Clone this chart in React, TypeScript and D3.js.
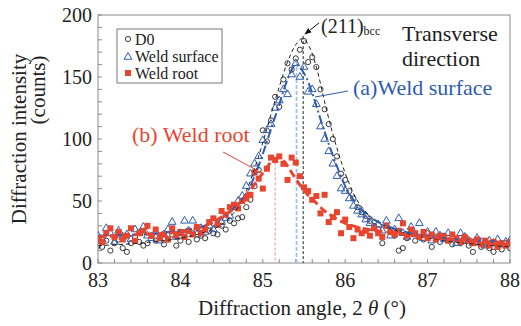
import React from "react";
import * as d3 from "d3";

// ---------------- DATA ----------------
const ANGLES = [
  83.0, 83.05, 83.1, 83.15, 83.2, 83.25, 83.3, 83.35, 83.4, 83.45,
  83.5, 83.55, 83.6, 83.65, 83.7, 83.75, 83.8, 83.85, 83.9, 83.95,
  84.0, 84.05, 84.1, 84.15, 84.2, 84.25, 84.3, 84.35, 84.4, 84.45,
  84.5, 84.55, 84.6, 84.65, 84.7, 84.75, 84.8, 84.85, 84.9, 84.95,
  85.0, 85.05, 85.1, 85.15, 85.2, 85.25, 85.3, 85.35, 85.4, 85.45,
  85.5, 85.55, 85.6, 85.65, 85.7, 85.75, 85.8, 85.85, 85.9, 85.95,
  86.0, 86.05, 86.1, 86.15, 86.2, 86.25, 86.3, 86.35, 86.4, 86.45,
  86.5, 86.55, 86.6, 86.65, 86.7, 86.75, 86.8, 86.85, 86.9, 86.95,
  87.0, 87.05, 87.1, 87.15, 87.2, 87.25, 87.3, 87.35, 87.4, 87.45,
  87.5, 87.55, 87.6, 87.65, 87.7, 87.75, 87.8, 87.85, 87.9, 87.95,
  88.0,
];

const D0 = [
  14, 13, 18, 10, 16, 19, 12, 9, 16, 21,
  17, 14, 16, 22, 18, 20, 15, 19, 23, 14,
  18, 21, 17, 24, 19, 22, 20, 26, 24, 23,
  30, 27, 34, 32, 36, 37, 45, 51, 62, 75,
  107, 98, 115, 134, 126, 148, 161, 156, 165, 172,
  179, 162, 166, 158, 140, 124, 112, 100, 86, 72,
  67, 58, 52, 45, 41, 38, 34, 30, 27, 16,
  30, 25, 22, 10, 12, 20, 24, 18, 21, 19,
  24, 13, 20, 17, 22, 18, 15, 19, 16, 21,
  14, 9, 17, 13, 15, 12, 9, 14, 11, 16,
  12,
];

const WELD_SURFACE = [
  22, 19, 28, 24, 17, 26, 21, 23, 19, 27,
  24, 29, 22, 20, 25, 18, 23, 27, 33, 21,
  24, 34, 26, 34, 23, 28, 25, 30, 27, 31,
  33, 36, 38, 45, 50, 54, 62, 72, 80, 86,
  99, 107, 112, 125, 131, 140, 136, 152, 161, 150,
  158, 138, 140, 128, 110, 100, 90, 80, 70, 60,
  58, 52, 46, 42, 39, 35, 32, 28, 31, 26,
  34, 22, 27, 36, 24, 21, 29, 23, 32, 20,
  25, 18, 25, 22, 19, 24, 20, 16, 24, 21,
  18, 16, 20, 17, 14, 18, 16, 19, 15, 17,
  18,
];

const WELD_ROOT = [
  20, 17, 24, 28, 21, 25, 19, 22, 28, 18,
  24, 26, 30, 22, 27, 20, 23, 19, 28, 22,
  25, 21, 26, 23, 29, 24, 27, 33, 36, 31,
  42, 39, 45, 47, 44, 50, 52, 55, 73, 68,
  60, 76, 85, 83, 86, 80, 67, 85, 81, 70,
  61, 58, 51, 54, 40, 55, 33, 37, 41, 24,
  35, 29, 20, 27, 24, 26, 22, 28, 24, 21,
  30, 25, 23, 26, 32, 22, 27, 24, 21, 25,
  20, 23, 19, 22, 21, 18, 23, 20, 17, 21,
  18, 16, 19, 15, 18, 14, 17, 13, 16, 14,
  17,
];

// fitted profiles
const FIT_D0_ANGLE = [83.0, 83.5, 84.0, 84.3, 84.5, 84.6, 84.7, 84.8, 84.9, 85.0, 85.1, 85.2, 85.3, 85.4, 85.48, 85.56, 85.65, 85.75, 85.85, 85.95, 86.05, 86.15, 86.3, 86.5, 86.8, 87.2, 87.6, 88.0];
const FIT_D0_COUNT = [14, 16, 20, 25, 31, 37, 45, 58, 76, 97, 120, 142, 162, 176, 181, 175, 158, 130, 104, 82, 64, 50, 38, 29, 23, 18, 15, 13];

const FIT_WS_ANGLE = [83.0, 83.5, 84.0, 84.3, 84.5, 84.6, 84.7, 84.8, 84.9, 85.0, 85.1, 85.2, 85.3, 85.4, 85.5, 85.6, 85.7, 85.8, 85.9, 86.0, 86.1, 86.2, 86.35, 86.5, 86.8, 87.2, 87.6, 88.0];
const FIT_WS_COUNT = [22, 23, 26, 30, 36, 41, 48, 56, 70, 88, 108, 128, 148, 160, 153, 137, 116, 96, 78, 62, 51, 43, 35, 30, 24, 20, 18, 17];

const FIT_WR_ANGLE = [83.0, 83.5, 84.0, 84.3, 84.5, 84.7, 84.85, 84.95, 85.05, 85.12, 85.2, 85.28, 85.36, 85.45, 85.53, 85.61, 85.75, 85.97, 86.2, 86.5, 87.0, 87.5, 88.0];
const FIT_WR_COUNT = [21, 23, 25, 30, 37, 47, 59, 68, 77, 83, 85, 80, 72, 63, 56, 51, 42, 33, 28, 25, 21, 18, 16];

// peak positions and heights (vertical marker lines)
const PEAK_ANGLES = [85.15, 85.41, 85.49];
const PEAK_TOPS = [85, 163, 183];

const X_TICKS = [83, 84, 85, 86, 87, 88];
const Y_TICKS = [0, 50, 100, 150, 200];
const LEGEND_LABELS = ["D0", "Weld surface", "Weld root"];

// ---------------- STYLE ----------------
const W = 521;
const H = 326;
const M = { left: 98, right: 510, top: 15, bottom: 263 };
const FONT = "Liberation Serif, DejaVu Serif, serif";
const BLUE = "#2d5cb0";
const RED = "#e8452f";
const AXIS = "#8a8a8a";
const TS = { fontFamily: FONT };

export default function App() {
  const x = d3.scaleLinear().domain([83, 88]).range([M.left, M.right]);
  const y = d3.scaleLinear().domain([0, 200]).range([M.bottom, M.top]);

  const line = (ax: number[], cy: number[]) =>
    d3
      .line<number>()
      .x((_, i) => x(ax[i]))
      .y((d) => y(d))
      .curve(d3.curveCatmullRom)(cy) || "";

  const tri = d3.symbol(d3.symbolTriangle, 26)() || "";
  const xMinor = d3.range(83, 88.0001, 0.2);
  const yMinor = d3.range(0, 200.001, 10);

  return (
    <svg
      width={W}
      height={H}
      style={{ position: "absolute", left: 0, top: 0, background: "#fff", fontFamily: FONT }}
    >
      <defs>
        <clipPath id="plotclip">
          <rect x={M.left} y={M.top} width={M.right - M.left} height={M.bottom - M.top} />
        </clipPath>
        <marker id="arr" viewBox="0 0 10 10" refX="9" refY="5" markerWidth="7" markerHeight="7" orient="auto">
          <path d="M0,1 L10,5 L0,9 Z" fill="#111" />
        </marker>
      </defs>

      {/* frame */}
      <rect x={M.left} y={M.top} width={M.right - M.left} height={M.bottom - M.top} fill="none" stroke={AXIS} strokeWidth={1} />

      {/* ticks */}
      {xMinor.map((t, i) => (
        <line key={"xm" + i} x1={x(t)} x2={x(t)} y1={M.bottom} y2={M.bottom - 4} stroke={AXIS} strokeWidth={1} />
      ))}
      {yMinor.map((t, i) => (
        <line key={"ym" + i} x1={M.left} x2={M.left + 4} y1={y(t)} y2={y(t)} stroke={AXIS} strokeWidth={1} />
      ))}
      {X_TICKS.map((t) => (
        <text key={"xt" + t} x={x(t)} y={287} textAnchor="middle" fontSize={20} fill="#222" style={TS}>
          {t}
        </text>
      ))}
      {Y_TICKS.map((t) => (
        <text key={"yt" + t} x={92} y={y(t) + 7} textAnchor="end" fontSize={20} fill="#222" style={TS}>
          {t}
        </text>
      ))}

      {/* axis titles */}
      <text x={302} y={315} textAnchor="middle" fontSize={21} fill="#222" style={TS}>
        Diffraction angle, 2<tspan fontStyle="italic"> θ</tspan> (°)
      </text>
      <text transform="translate(26,139) rotate(-90)" textAnchor="middle" fontSize={21} fill="#222" style={TS}>
        Diffraction intensity
      </text>
      <text transform="translate(45,90) rotate(-90)" textAnchor="middle" fontSize={21} fill="#222" style={TS}>
        (counts)
      </text>

      <g clipPath="url(#plotclip)">
        {/* vertical peak lines */}
        <line x1={x(PEAK_ANGLES[0])} x2={x(PEAK_ANGLES[0])} y1={y(PEAK_TOPS[0])} y2={M.bottom} stroke="#f4a595" strokeWidth={1.2} strokeDasharray="3,2" />
        <line x1={x(PEAK_ANGLES[1])} x2={x(PEAK_ANGLES[1])} y1={y(PEAK_TOPS[1])} y2={M.bottom} stroke="#a9bfe8" strokeWidth={1.8} strokeDasharray="4,2" />
        <line x1={x(PEAK_ANGLES[2])} x2={x(PEAK_ANGLES[2])} y1={y(PEAK_TOPS[2])} y2={M.bottom} stroke="#222" strokeWidth={1} strokeDasharray="3,2" />

        {/* markers */}
        {ANGLES.map((a, i) => (
          <circle key={"c" + i} cx={x(a)} cy={y(D0[i])} r={2.6} fill="none" stroke="#222" strokeWidth={0.9} />
        ))}
        {ANGLES.map((a, i) => (
          <path key={"t" + i} d={tri} transform={`translate(${x(a)},${y(WELD_SURFACE[i])})`} fill="none" stroke={BLUE} strokeWidth={1} />
        ))}
        {ANGLES.map((a, i) => (
          <rect key={"s" + i} x={x(a) - 3} y={y(WELD_ROOT[i]) - 3} width={6} height={6} fill={RED} />
        ))}

        {/* fits */}
        <path d={line(FIT_D0_ANGLE, FIT_D0_COUNT)} fill="none" stroke="#222" strokeWidth={1} strokeDasharray="4,3" />
        <path d={line(FIT_WS_ANGLE, FIT_WS_COUNT)} fill="none" stroke={BLUE} strokeWidth={2} strokeDasharray="9,3,2,3" />
        <path d={line(FIT_WR_ANGLE, FIT_WR_COUNT)} fill="none" stroke={RED} strokeWidth={3} strokeDasharray="8,4" />
      </g>

      {/* annotations */}
      <line x1={319} y1={23} x2={305} y2={34} stroke="#111" strokeWidth={1} markerEnd="url(#arr)" />
      <text x={321} y={33} fontSize={20} fill="#222" style={TS}>
        (211)<tspan fontSize={12} dy={2}>bcc</tspan>
      </text>
      <text x={402} y={41} fontSize={22} fill="#222" style={TS}>Transverse</text>
      <text x={402} y={66} fontSize={22} fill="#222" style={TS}>direction</text>
      <line x1={315} y1={97} x2={348} y2={91} stroke={BLUE} strokeWidth={1} />
      <text x={353} y={95} fontSize={22} fill={BLUE} style={TS}>(a)Weld surface</text>
      <line x1={223} y1={152} x2={262} y2={173} stroke={RED} strokeWidth={1} />
      <text x={132} y={142} fontSize={22} fill={RED} style={TS}>(b) Weld root</text>

      {/* legend */}
      <rect x={117} y={29} width={105} height={54} fill="#fff" stroke="#555" strokeWidth={0.8} />
      <circle cx={128} cy={39} r={2.6} fill="none" stroke="#222" strokeWidth={0.9} />
      <path d={tri} transform="translate(128,57)" fill="none" stroke={BLUE} strokeWidth={1} />
      <rect x={125} y={70} width={6} height={6} fill={RED} />
      {LEGEND_LABELS.map((l, i) => (
        <text key={l} x={135} y={45 + i * 17} fontSize={16} fill="#222" style={TS}>
          {l}
        </text>
      ))}
    </svg>
  );
}
